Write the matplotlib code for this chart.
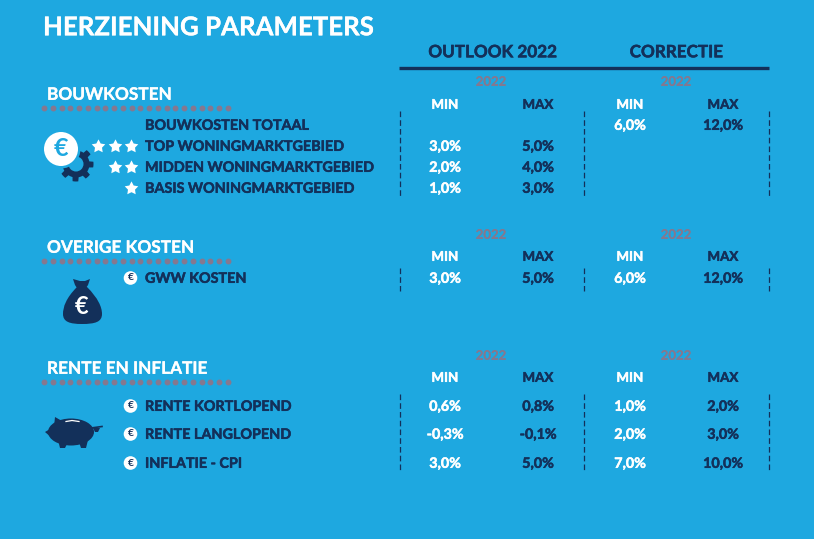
import matplotlib
matplotlib.use("Agg")
import matplotlib.pyplot as plt
import matplotlib.patheffects as pe
import numpy as np
from matplotlib.patches import Circle, Ellipse, PathPatch, Polygon
from matplotlib.path import Path

# table content
title = "HERZIENING PARAMETERS"
group_names = ["OUTLOOK 2022", "CORRECTIE"]
year_label = "2022"
col_labels = ["MIN", "MAX", "MIN", "MAX"]
sections = ["BOUWKOSTEN", "OVERIGE KOSTEN", "RENTE EN INFLATIE"]

bouw_labels = ["BOUWKOSTEN TOTAAL", "TOP WONINGMARKTGEBIED",
               "MIDDEN WONINGMARKTGEBIED", "BASIS WONINGMARKTGEBIED"]
bouw_values = [["", "", "6,0%", "12,0%"],
               ["3,0%", "5,0%", "", ""],
               ["2,0%", "4,0%", "", ""],
               ["1,0%", "3,0%", "", ""]]
bouw_stars = [0, 3, 2, 1]

overig_labels = ["GWW KOSTEN"]
overig_values = [["3,0%", "5,0%", "6,0%", "12,0%"]]

rente_labels = ["RENTE KORTLOPEND", "RENTE LANGLOPEND", "INFLATIE - CPI"]
rente_values = [["0,6%", "0,8%", "1,0%", "2,0%"],
                ["-0,3%", "-0,1%", "2,0%", "3,0%"],
                ["3,0%", "5,0%", "7,0%", "10,0%"]]

BG = "#1ea8e0"
DARK = "#13305a"
GREY = "#85788f"
WHITE = "white"
plt.rcParams["font.family"] = ["Lato", "DejaVu Sans"]

col_x = [445, 538, 630, 723]
year_x = [491, 676]
dash_x = [399.5, 584, 769]
label_x = 145
fat_star = Path.unit_regular_star(5, innerCircle=0.52)

fig = plt.figure(figsize=(8.14, 5.39), dpi=100, facecolor=BG)
ax = fig.add_axes([0, 0, 1, 1])
ax.set_xlim(0, 814)
ax.set_ylim(539, 0)
ax.axis("off")


def txt(x, y, s, size=10.5, color=DARK, ha="center", stroke=0.35):
    t = ax.text(x, y + 0.8, s, fontsize=size, color=color, ha=ha, va="center", weight="bold")
    # the reference lettering is a bit heavier than Lato Bold
    t.set_path_effects([pe.withStroke(linewidth=stroke, foreground=color)])


def euro_bullet(x, y):
    ax.add_patch(Circle((x, y), 6.8, fc=WHITE, ec="none", zorder=3))
    ax.text(x, y, "€", fontsize=7.5, color=DARK, weight="bold", ha="center", va="center", zorder=4)


def section_block(name, name_y, dots_y, year_y, head_y, rows_y, labels, values, dash_range):
    txt(47, name_y, name, size=12.4, color=WHITE, ha="left", stroke=0.2)
    ax.scatter(np.linspace(44, 228, 22), [dots_y] * 22, s=18, color=GREY, linewidths=0)
    for x in year_x:
        txt(x, year_y, year_label, size=9.5, color=GREY, stroke=0)
    for x, lab, c in zip(col_x, col_labels, [WHITE, DARK, WHITE, DARK]):
        txt(x, head_y, lab, size=9.6, color=c)
    for y, lab, vals in zip(rows_y, labels, values):
        txt(label_x, y, lab, size=10.35, ha="left")
        for x, v, c in zip(col_x, vals, [WHITE, DARK, WHITE, DARK]):
            if v:
                txt(x, y, v, size=10.3, color=c)
    for x in dash_x:
        ax.plot([x, x], dash_range, color=DARK, lw=0.9, ls=(0, (4.5, 2.5)))


# header
txt(43, 26.5, title, size=18.6, color=WHITE, ha="left", stroke=0.2)
txt(492.5, 51.5, group_names[0], size=12.3)
txt(676.5, 51.5, group_names[1], size=12.3)
ax.plot([399, 769], [67.5, 67.5], color=DARK, lw=2.4, solid_capstyle="butt")

rows1 = [125, 146, 167, 188]
rows2 = [278]
rows3 = [406, 434, 463]
section_block(sections[0], 94, 108, 81, 104, rows1, bouw_labels, bouw_values, (111, 197))
section_block(sections[1], 247, 261, 234, 256, rows2, overig_labels, overig_values, (268, 291))
section_block(sections[2], 368, 382, 355, 377, rows3, rente_labels, rente_values, (394, 472))

# stars next to the first block
for y, n in zip(rows1, bouw_stars):
    if n:
        ax.scatter([131 - 16.5 * i for i in range(n)], [y] * n, marker=fat_star, s=105,
                   color=WHITE, linewidths=0, zorder=3)

for y in rows2 + rows3:
    euro_bullet(130.5, y)

# gear with euro coin
ang = np.linspace(0, 2 * np.pi, 96, endpoint=False)
rad = np.where(((ang + 0.196) % (2 * np.pi / 8)) < (2 * np.pi / 16), 17.5, 13.5)
ax.add_patch(Polygon(np.c_[76 + rad * np.cos(ang), 164 + rad * np.sin(ang)], fc=DARK, ec="none"))
ax.add_patch(Circle((76, 164), 7.5, fc=BG, ec="none"))
ax.add_patch(Circle((61, 149), 19.5, fc=BG, ec="none"))
ax.add_patch(Circle((61, 149), 17, fc=WHITE, ec="none"))
ax.text(61, 149, "€", fontsize=18, color=BG, weight="bold", ha="center", va="center")

# money bag
bag = Path(
    [(77, 287), (66, 298), (63, 307), (63, 314), (63, 322), (70, 324), (82, 324),
     (95, 324), (102, 322), (102, 314), (102, 307), (98, 298), (87, 287), (77, 287)],
    [Path.MOVETO] + [Path.CURVE4] * 12 + [Path.CLOSEPOLY])
ax.add_patch(PathPatch(bag, fc=DARK, ec="none"))
ax.add_patch(Polygon([(73, 279), (80, 281), (85, 281), (90, 279), (88, 285), (86, 288), (77, 288), (75, 285)],
                     fc=DARK, ec="none"))
ax.text(81.5, 307, "€", fontsize=17, color=WHITE, weight="bold", ha="center", va="center")

# piggy bank
ax.add_patch(Ellipse((71, 432), 46, 27, fc=DARK, ec="none"))
ax.add_patch(Polygon([(45, 432), (50, 429), (54, 427), (55, 417), (62, 421), (60, 441), (52, 438)], fc=DARK, ec="none"))
ax.add_patch(Polygon([(58, 440), (68, 442), (65, 448), (60, 448)], fc=DARK, ec="none"))
ax.add_patch(Polygon([(79, 442), (88, 440), (86, 448), (81, 448)], fc=DARK, ec="none"))
ax.plot([91, 102], [428, 426.5], color=DARK, lw=1.2)
ax.add_patch(Polygon([(93, 428), (100, 428), (98, 432), (95, 432)], fc=DARK, ec="none"))
ax.plot([66, 72, 79], [421.5, 420.5, 421.5], color=WHITE, lw=0.9)

fig.savefig("out.png", dpi=100, facecolor=BG)
